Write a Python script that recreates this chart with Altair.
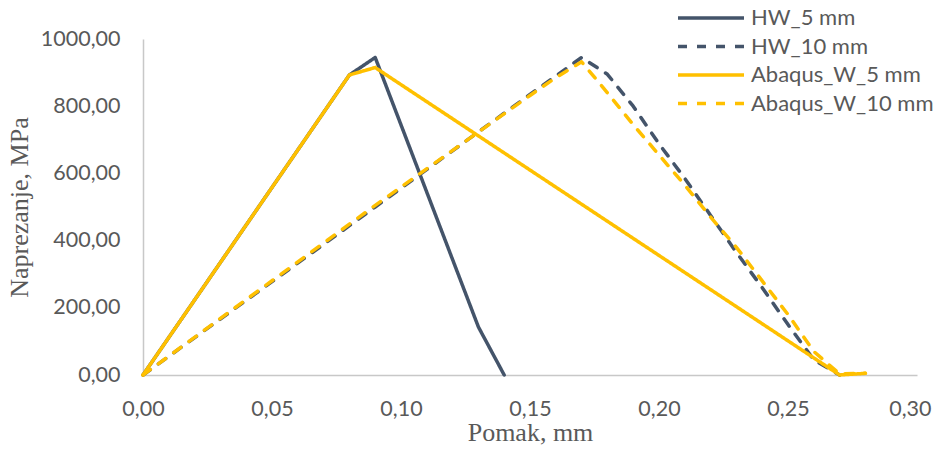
import altair as alt
import pandas as pd

series_names = ["HW_5 mm", "HW_10 mm", "Abaqus_W_5 mm", "Abaqus_W_10 mm"]

hw5_x = [0.0, 0.08, 0.09, 0.13, 0.14]
hw5_y = [0, 893, 945, 143, 0]

hw10_x = [0.0, 0.09, 0.15, 0.16, 0.17, 0.18, 0.19, 0.20, 0.21, 0.22, 0.23, 0.24, 0.25, 0.26, 0.27]
hw10_y = [0, 500, 835, 890, 945, 895, 800, 688, 585, 475, 365, 260, 150, 45, 0]

ab5_x = [0.0, 0.08, 0.09, 0.27, 0.28]
ab5_y = [0, 893, 915, 0, 5]

ab10_x = [0.0, 0.09, 0.15, 0.16, 0.17, 0.18, 0.19, 0.20, 0.21, 0.22, 0.23, 0.24, 0.25, 0.26, 0.27, 0.28]
ab10_y = [0, 505, 832, 885, 932, 840, 745, 655, 565, 470, 380, 280, 180, 70, 3, 5]

x_ticks = [0.0, 0.05, 0.10, 0.15, 0.20, 0.25, 0.30]
y_ticks = [0, 200, 400, 600, 800, 1000]

colors = ["#44546A", "#44546A", "#FFC000", "#FFC000"]
dashes = [[1, 0], [9, 10], [1, 0], [9, 10]]

rows = []
for name, xs, ys in zip(series_names, [hw5_x, hw10_x, ab5_x, ab10_x], [hw5_y, hw10_y, ab5_y, ab10_y]):
    for i, (xv, yv) in enumerate(zip(xs, ys)):
        rows.append({"series": name, "x": xv, "y": yv, "i": i})
df = pd.DataFrame(rows)

legend = alt.Legend(
    title=None,
    orient="none",
    legendX=555,
    legendY=-34,
    symbolType="M-3,0H3",
    symbolSize=484,
    symbolStrokeWidth=3.5,
    labelOffset=27,
    labelFont="Lato",
    labelFontSize=22,
    labelColor="#595959",
    rowPadding=4.5,
    padding=0,
    labelLimit=400,
)

chart = alt.Chart(df).mark_line(strokeWidth=3.5, strokeCap="round", strokeJoin="round").encode(
    x=alt.X("x:Q", scale=alt.Scale(domain=[0, 0.30], nice=False),
            axis=alt.Axis(values=x_ticks, title="Pomak, mm",
                          labelExpr="replace(format(datum.value, '.2f'), '.', ',')",
                          labelAlign={"condition": {"test": "datum.value >= 0.3", "value": "right"}, "value": "center"},
                          labelOffset={"condition": {"test": "datum.value >= 0.3", "value": 14}, "value": 0})),
    y=alt.Y("y:Q", scale=alt.Scale(domain=[0, 1000], nice=False),
            axis=alt.Axis(values=y_ticks, title="Naprezanje, MPa",
                          labelExpr="replace(format(datum.value, '.2f'), '.', ',')")),
    color=alt.Color("series:N", scale=alt.Scale(domain=series_names, range=colors), legend=legend),
    strokeDash=alt.StrokeDash("series:N", scale=alt.Scale(domain=series_names, range=dashes), legend=legend),
    order="i:Q",
).properties(
    width=774,
    height=336,
    autosize=alt.AutoSizeParams(type="none"),
    padding={"left": 135, "top": 31, "right": 16, "bottom": 71},
).configure_view(stroke=None).configure_axis(
    grid=False,
    ticks=False,
    tickSize=0,
    labelFlush=False,
    labelOverlap=False,
    domainColor="#c8c8c8",
    domainWidth=1.5,
    labelFont="Lato",
    labelFontSize=21.5,
    labelColor="#595959",
    titleFont="Liberation Serif",
    titleFontSize=26,
    titleFontWeight="normal",
    titleColor="#595959",
).configure_axisX(
    labelPadding=23,
    titlePadding=0,
).configure_axisY(
    labelPadding=23,
    titlePadding=8,
)

chart.save("out.html", embed_options={"renderer": "svg", "actions": False})
